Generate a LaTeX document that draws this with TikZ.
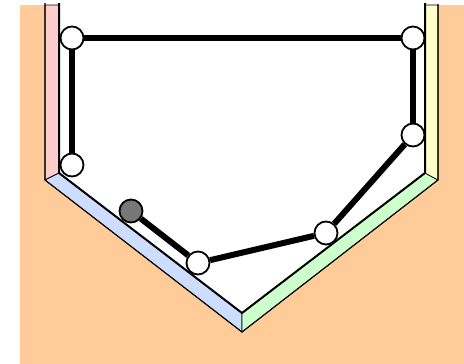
\documentclass[tikz,border=0pt]{standalone}
\pgfdeclarelayer{bg}
\pgfdeclarelayer{edges}
\pgfsetlayers{bg,edges,main}
\definecolor{peach}{HTML}{FFCC99}
\definecolor{pinkface}{HTML}{FFCCCC}
\definecolor{blueface}{HTML}{CCDDFF}
\definecolor{greenface}{HTML}{CCFFCC}
\definecolor{yellowface}{HTML}{FFFFCC}
\definecolor{grayball}{HTML}{777777}
\tikzset{
  ball/.style={circle, draw=black, line width=1.8pt, fill=white, minimum size=23pt, inner sep=0pt},
  heavy/.style={circle, draw=black, line width=1.8pt, fill=grayball, minimum size=23pt, inner sep=0pt},
  link/.style={line width=6pt, black},
  face/.style={draw=black, line width=0.7pt, line join=round},
}
\begin{document}
\begin{tikzpicture}[x=1pt,y=-1pt]
\useasboundingbox (0,0) rectangle (464,364);
\node[ball] (A) at (72,38) {};
\node[ball] (B) at (413,38) {};
\node[ball] (C) at (72,165) {};
\node[ball] (D) at (413,135) {};
\node[heavy] (E) at (131,211) {};
\node[ball] (F) at (198,263) {};
\node[ball] (G) at (326,233) {};
\begin{pgfonlayer}{bg}
\fill[peach] (20,5) rectangle (464,364);
\fill[white] (59,5) -- (59,173) -- (242,313) -- (425,173) -- (425,5) -- cycle;
\filldraw[face, fill=pinkface] (45,5) -- (59,5) -- (59,173) -- (45,180) -- cycle;
\filldraw[face, fill=blueface] (45,180) -- (59,173) -- (242,313) -- (242,332) -- cycle;
\filldraw[face, fill=greenface] (242,332) -- (242,313) -- (425,173) -- (438,180) -- cycle;
\filldraw[face, fill=yellowface] (425,5) -- (438,5) -- (438,180) -- (425,173) -- cycle;
\draw[line width=1.1pt] (45,3) -- (45,180) -- (242,332) -- (438,180) -- (438,4);
\draw[line width=2pt, line join=round] (59,3) -- (59,173) -- (242,313) -- (425,173) -- (425,3);
\end{pgfonlayer}
\begin{pgfonlayer}{edges}
\draw[link] (A) -- (B);
\draw[link] (A) -- (C);
\draw[link] (B) -- (D);
\draw[link] (D) -- (G);
\draw[link] (G) -- (F);
\draw[link] (F) -- (E);
\end{pgfonlayer}
\end{tikzpicture}
\end{document}
